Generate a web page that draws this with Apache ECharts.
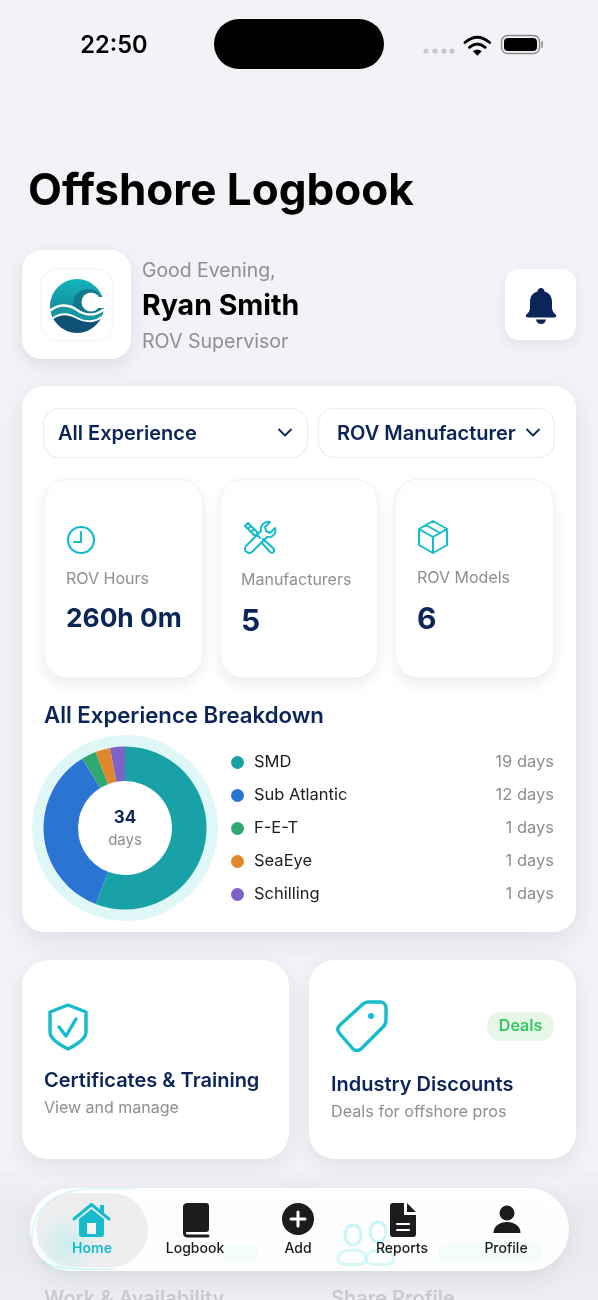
<!DOCTYPE html>
<html>
<head>
<meta charset="utf-8">
<title>Offshore Logbook</title>
<script src="https://cdn.jsdelivr.net/npm/echarts@6/dist/echarts.min.js"></script>
<style>
  html, body { margin: 0; padding: 0; background: #f2f2f7; }
  #main { width: 598px; height: 1300px; }
</style>
</head>
<body>
<div id="main"></div>
<script>
// breakdown chart data
var categories = ['SMD', 'Sub Atlantic', 'F-E-T', 'SeaEye', 'Schilling'];
var dayValues = [19, 12, 1, 1, 1];
var sliceColors = ['#18a2a8', '#2a74d4', '#2fa872', '#e0872c', '#7d62c8'];
var totalDays = 34;

// stat tiles
var statLabels = ['ROV Hours', 'Manufacturers', 'ROV Models'];
var statValues = ['260h 0m', '5', '6'];
var navLabels = ['Home', 'Logbook', 'Add', 'Reports', 'Profile'];

var NAVY = '#0b2558', TEAL = '#14bccd', GRAY = '#8e8e93', INK = '#1c1c1e';
var FONT = 'Inter, "Noto Sans", sans-serif';

var shapes = {
  bell: 'M15 0C17 0 18.5 1.5 18.5 3.5C24 5 26 9 26 14L26 20C26 23 28 25 30 27C30.5 28 30 29.5 28 29.5L2 29.5C0 29.5 -.5 28 0 27C2 25 4 23 4 20L4 14C4 9 6 5 11.5 3.5C11.5 1.5 13 0 15 0ZM10 31.5L20 31.5C19.5 34.5 17.5 36 15 36C12.5 36 10.5 34.5 10 31.5Z',
  wifiArcs: 'M0 8Q14 -4 28 8M5 13.5Q14 6 23 13.5',
  wifiDot: 'M9 18Q14 14 19 18L14 23Z',
  tools: 'M31 6L26 11L22 9L21 5L26 0C20 -1 16 4 17 9L2 24C0 27 1 29 3 30C5 32 7 31 9 29L23 15C28 16 33 12 31 6ZM1 4L4 1L14 11L11 14ZM4 7L7 4M7 10L10 7M13 13L16 16M19 17L29 26C32 29 29 32 26 30L18 21',
  box: 'M14 0L28 8L28 24L14 32L0 24L0 8ZM0 8L14 16L28 8M14 16L14 32M7 4L21 12',
  shield: 'M18 0L36 7L36 27C36 33 28 39 18 44C8 39 0 33 0 27L0 7Z',
  check: 'M9 22L16 31L26 14',
  tag: 'M31 1L43 1C46 1 49 3 49 7L49 19C49 22 48 24 46 26L24 48C21 50 18 50 16 48L3 33C0 30 0 27 3 24L26 3C27 2 29 1 31 1Z',
  chevron: 'M0 0L6 6L12 0',
  roof: 'M1 16L18.5 1.5L36 16',
  house: 'M6 16L18.5 6L31 16L31 31Q31 34 28 34L9 34Q6 34 6 31Z',
  bookSpine: 'M1.5 3L1.5 30Q1.5 33 5 33L25 33',
  report: 'M3 0L14 0L14 12L26 12L26 31Q26 34 23 34L3 34Q0 34 0 31L0 3Q0 0 3 0ZM17 0L26 9L17 9Z',
  person: 'M0 11C0 4 6 0 13.5 0C21 0 27 4 27 11Z',
  waveTeal: 'M2 33C10 26 20 28 27 33C34 38 44 40 53 32L51 39C44 45 34 44 27 40C20 36 12 34 4 40Z',
  waveDeep: 'M4 40C12 34 20 36 27 40C34 44 44 45 51 39A27 27 0 0 1 4 40Z',
  waveLine1: 'M1 31C10 24 20 26 27 31C34 36 44 38 53 31',
  waveLine2: 'M3 39C12 33 20 35 27 39C34 43 44 44 51.5 38',
  navGlow: 'M2 54C0 22 24 2 60 1L104 1M8 72C20 80 44 82 84 81',
  ghostLoop: 'M0 -10C6 -10 8 -4 8 0C8 5 5 10 0 10C-5 10 -8 5 -8 0C-8 -4 -6 -10 0 -10Z',
  ghostBody: 'M-14 12C-14 4 -7 2 0 2C7 2 14 4 14 12C14 18 -14 18 -14 12Z'
};
Object.keys(shapes).forEach(function (k) {
  echarts.graphic.registerShape('ic_' + k, echarts.graphic.extendPath(shapes[k]));
});

function box(x, y, w, h, r, fill, extra) {
  return { type: 'rect', shape: { x: x, y: y, width: w, height: h, r: r }, style: Object.assign({ fill: fill }, extra || {}) };
}
function card(x, y, w, h, r, blur, alpha) {
  return box(x, y, w, h, r, '#fff', { shadowBlur: blur, shadowOffsetY: blur / 3, shadowColor: 'rgba(40,50,80,' + alpha + ')' });
}
function txt(s, x, y, size, weight, color, align, z) {
  return {
    type: 'text', x: x, y: y + 1, z: z || 0,
    style: { text: s, fontFamily: FONT, fontSize: size, fontWeight: weight, fill: color, textAlign: align || 'left', textVerticalAlign: 'middle' }
  };
}
function fillIcon(name, x, y, color, s, extra) {
  return { type: 'ic_' + name, x: x, y: y, scaleX: s || 1, scaleY: s || 1, style: Object.assign({ fill: color, stroke: null }, extra || {}) };
}
function lineIcon(name, x, y, color, width, s, extra) {
  return { type: 'ic_' + name, x: x, y: y, scaleX: s || 1, scaleY: s || 1,
    style: Object.assign({ fill: null, stroke: color, lineWidth: width, lineJoin: 'round', lineCap: 'round' }, extra || {}) };
}
function dot(cx, cy, r, fill, extra) {
  return { type: 'circle', shape: { cx: cx, cy: cy, r: r }, style: Object.assign({ fill: fill }, extra || {}) };
}
function bar(x1, y1, x2, y2, color, w) {
  return { type: 'line', shape: { x1: x1, y1: y1, x2: x2, y2: y2 }, style: { stroke: color, lineWidth: w, lineCap: 'round' } };
}

var statX = [44, 220, 395], statW = [159, 158, 159];
var statLabelX = [66, 241, 417], statLabelY = [578, 579, 577];
var statValueY = [618, 621, 619], statValueSize = [26.3, 30, 30];

var navX = [92, 195, 298, 402, 506];

var g = [];
// page
g.push(box(0, 0, 598, 1300, 0, '#f2f2f7'));

// status bar
g.push(txt('22:50', 114, 45, 23.6, 600, '#000', 'center'));
g.push(box(214, 19, 170, 50, 25, '#000'));
[426, 435, 444, 452].forEach(function (x) { g.push(dot(x, 51, 2.6, '#c8c8cc')); });
g.push(lineIcon('wifiArcs', 465, 35.5, '#000', 3.2, 0.88));
g.push(fillIcon('wifiDot', 465, 35.5, '#000', 0.88));
g.push(box(501.5, 35.5, 38, 18, 6, 'none', { stroke: '#8a8a8e', lineWidth: 1.4 }));
g.push(box(504, 38, 33, 13, 4, '#000'));
g.push(box(541, 41, 2, 7, 1, '#a0a0a4'));

// header
g.push(txt('Offshore Logbook', 28, 191, 44, 700, '#000'));
g.push(card(22, 250, 109, 109, 20, 18, 0.10));
g.push(box(41, 269, 72, 72, 16, '#fff', { stroke: '#f2f2f4', lineWidth: 1 }));

// wave logo
g.push(dot(77, 306, 27, new echarts.graphic.LinearGradient(0, 0, 0, 1, [
  { offset: 0, color: '#12b6bc' }, { offset: 0.6, color: '#148a9e' }, { offset: 1, color: '#0e5278' }
])));
g.push(dot(88, 304, 15, '#12788e'));
g.push(dot(91, 302, 9.5, '#fff'));
g.push(box(96, 297, 12, 11, 0, '#fff'));
g.push(fillIcon('waveTeal', 50, 279, '#1698a5'));
g.push(fillIcon('waveDeep', 50, 279, '#0e5278'));
g.push(lineIcon('waveLine1', 50, 279, '#fff', 2.4));
g.push(lineIcon('waveLine2', 50, 279, '#fff', 2));

g.push(txt('Good Evening,', 142, 270, 19.4, 400, GRAY));
g.push(txt('Ryan Smith', 142, 305, 28.5, 700, '#000'));
g.push(txt('ROV Supervisor', 142, 341, 19.6, 400, GRAY));
g.push(card(505, 269, 71, 71, 14, 14, 0.08));
g.push(fillIcon('bell', 526, 288, NAVY));

// main card
g.push(card(22, 386, 554, 546, 22, 26, 0.10));
g.push(box(43.5, 408.5, 264, 49, 16, '#fff', { stroke: '#ecedf1', lineWidth: 1.2 }));
g.push(box(318.5, 408.5, 236, 49, 16, '#fff', { stroke: '#ecedf1', lineWidth: 1.2 }));
g.push(txt('All Experience', 58, 433, 20, 600, NAVY));
g.push(txt('ROV Manufacturer', 337, 433, 20, 600, NAVY));
g.push(lineIcon('chevron', 279, 429.5, NAVY, 1.8));
g.push(lineIcon('chevron', 527, 429.5, NAVY, 1.8));

statLabels.forEach(function (label, i) {
  g.push(box(statX[i], 479, statW[i], 199, 24, '#fff', { stroke: '#f0f0f3', lineWidth: 1, shadowBlur: 14, shadowOffsetY: 6, shadowColor: 'rgba(40,50,80,0.08)' }));
  g.push(txt(label, statLabelX[i], statLabelY[i], 16, 400, GRAY));
  g.push(txt(statValues[i], statLabelX[i], statValueY[i], statValueSize[i], 700, NAVY));
});
g.push(dot(81, 540, 13, 'none', { stroke: TEAL, lineWidth: 2.2 }));
g.push(bar(81, 532, 81, 542, TEAL, 2));
g.push(bar(81, 542, 74, 542, TEAL, 2));
g.push(lineIcon('tools', 244, 522, TEAL, 2));
g.push(lineIcon('box', 419, 521, TEAL, 2));

g.push(txt('All Experience Breakdown', 44, 715, 22.2, 600, NAVY));
g.push({ type: 'ring', shape: { cx: 125, cy: 828, r: 93, r0: 80 }, style: { fill: '#e0f7f8' } });
g.push(txt(String(totalDays), 125, 817, 17, 700, NAVY, 'center', 5));
g.push(txt('days', 125, 839, 15, 400, GRAY, 'center', 5));

// lower cards
g.push(card(22, 960, 267, 199, 26, 22, 0.09));
g.push(card(309, 960, 267, 199, 26, 22, 0.09));
g.push(lineIcon('shield', 50, 1005, TEAL, 3.4));
g.push(lineIcon('check', 50, 1005, TEAL, 3.4));
g.push(txt('Certificates & Training', 44, 1080, 20, 600, NAVY));
g.push(txt('View and manage', 44, 1107, 16, 400, GRAY));
g.push(lineIcon('tag', 337, 1001, TEAL, 3.4));
g.push(dot(371, 1016, 3, TEAL));
g.push(box(487, 1012, 67, 29, 14, '#e6f7ea'));
g.push(txt('Deals', 520.5, 1025, 16, 600, '#34c759', 'center'));
g.push(txt('Industry Discounts', 331, 1084, 20, 600, NAVY));
g.push(txt('Deals for offshore pros', 331, 1111, 16.2, 400, GRAY));

// cards sliding under the nav, mostly washed out
g.push(box(22, 1178, 267, 160, 26, 'rgba(255,255,255,0.35)'));
g.push(box(309, 1178, 267, 160, 26, 'rgba(255,255,255,0.35)'));
g.push(box(0, 1170, 598, 130, 0, new echarts.graphic.LinearGradient(0, 0, 0, 1, [
  { offset: 0, color: 'rgba(232,233,238,0.2)' }, { offset: 0.3, color: 'rgba(232,233,238,0.85)' }, { offset: 1, color: 'rgba(236,236,241,0.9)' }
])));
g.push(txt('Work & Availability', 44, 1298, 20, 600, '#c9cbd2'));
g.push(txt('Share Profile', 331, 1298, 20, 600, '#c9cbd2'));

// nav bar
g.push(box(30, 1188, 539, 83, 41, 'rgba(255,255,255,0.97)', { shadowBlur: 22, shadowOffsetY: 8, shadowColor: 'rgba(40,50,80,0.10)' }));
// things showing through the glass
g.push(lineIcon('ghostLoop', 353, 1235, '#9ff0ee', 3, 1, { opacity: 0.55 }));
g.push(lineIcon('ghostLoop', 378, 1232, '#9ff0ee', 3, 1, { opacity: 0.55 }));
g.push(lineIcon('ghostBody', 352, 1248, '#9ff0ee', 3, 1, { opacity: 0.4 }));
g.push(lineIcon('ghostBody', 380, 1248, '#9ff0ee', 3, 1, { opacity: 0.4 }));
g.push(box(438, 1243, 104, 19, 8, 'rgba(205,248,232,0.18)'));
g.push(box(222, 1244, 36, 18, 8, 'rgba(205,248,232,0.18)'));
// home highlight
g.push(box(36, 1193, 112, 74, 37, '#eeeef0'));
g.push(dot(68, 1244, 32, new echarts.graphic.RadialGradient(0.5, 0.5, 0.5, [
  { offset: 0, color: 'rgba(160,238,232,0.45)' }, { offset: 1, color: 'rgba(160,238,232,0)' }
])));
g.push(lineIcon('navGlow', 30, 1188, 'rgba(170,240,236,0.5)', 1.6));

g.push(fillIcon('house', 73, 1203, TEAL));
g.push(lineIcon('roof', 73, 1203, TEAL, 3));
g.push(box(100, 1205, 4, 9, 0, TEAL));
g.push(box(87, 1223, 9, 11, 0, '#f4f6f7'));

g.push(box(184, 1203, 25, 29, 3, INK));
g.push(lineIcon('bookSpine', 183, 1203, INK, 3));
g.push(dot(298, 1219, 16, INK));
g.push(bar(291, 1219, 305, 1219, '#fff', 3));
g.push(bar(298, 1212, 298, 1226, '#fff', 3));
g.push(fillIcon('report', 390, 1203, INK));
g.push(bar(397, 1224, 409, 1224, '#fff', 2.2));
g.push(bar(397, 1230, 409, 1230, '#fff', 2.2));
g.push(dot(507, 1213, 7.5, INK));
g.push(fillIcon('person', 493.5, 1222, INK));
navLabels.forEach(function (label, i) {
  g.push(txt(label, navX[i], 1248, 14, i === 0 ? 600 : 500, i === 0 ? TEAL : INK, 'center'));
});

var option = {
  animation: false,
  graphic: { elements: g },
  legend: {
    orient: 'vertical',
    left: 226,
    top: 749,
    itemWidth: 13,
    itemHeight: 13,
    itemGap: 16,
    icon: 'circle',
    selectedMode: false,
    data: categories,
    formatter: function (name) {
      return '{n|' + name + '}{v|' + dayValues[categories.indexOf(name)] + ' days}';
    },
    textStyle: {
      rich: {
        n: { width: 240, padding: [0, 0, 0, 5], lineHeight: 20, fontSize: 16.5, fontFamily: FONT, color: '#1c1c1e' },
        v: { width: 60, align: 'right', lineHeight: 20, fontSize: 16.5, fontFamily: FONT, color: GRAY }
      }
    }
  },
  series: [{
    type: 'pie',
    silent: true,
    center: [125, 828],
    radius: [47, 81.5],
    startAngle: 90,
    label: { show: false },
    labelLine: { show: false },
    data: categories.map(function (name, i) {
      return { name: name, value: dayValues[i], itemStyle: { color: sliceColors[i] } };
    })
  }]
};

var chart = echarts.init(document.getElementById('main'), null, { renderer: 'canvas' });
chart.setOption(option);
</script>
</body>
</html>
